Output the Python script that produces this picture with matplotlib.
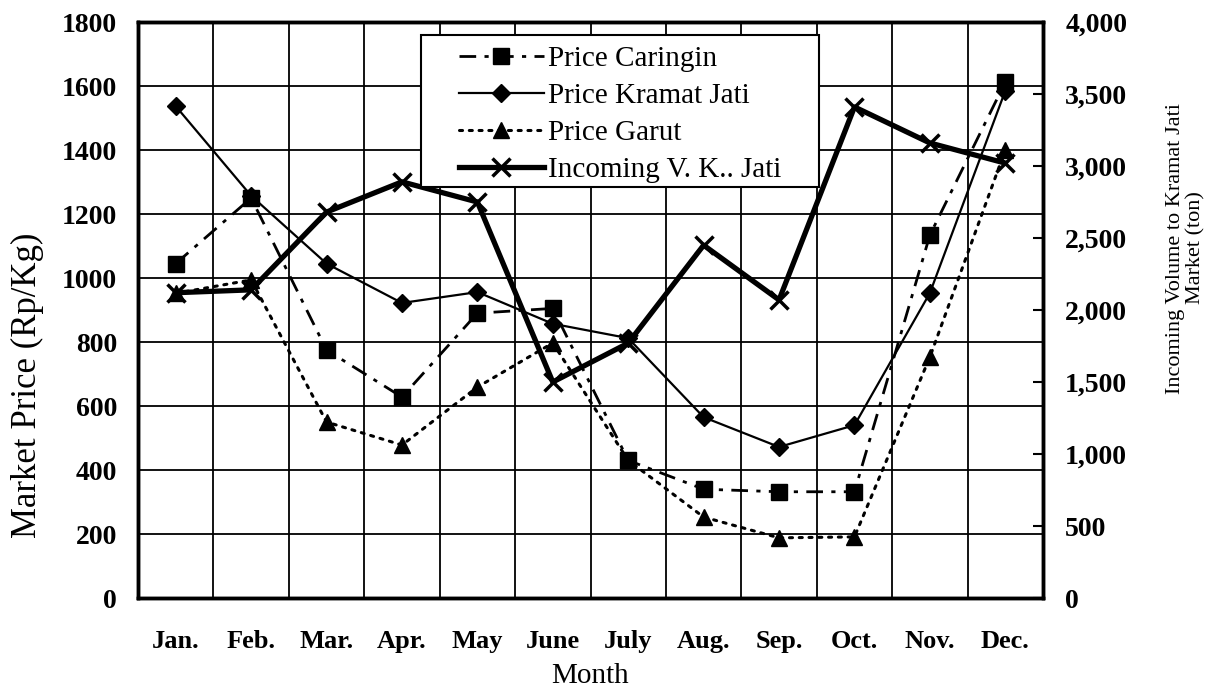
import matplotlib
matplotlib.use("Agg")
import matplotlib.pyplot as plt
from matplotlib.patches import Rectangle
from matplotlib.ticker import FuncFormatter

plt.rcParams["font.family"] = ["Liberation Serif", "DejaVu Serif"]
plt.rcParams["figure.dpi"] = 100

# data
months = ["Jan.", "Feb.", "Mar.", "Apr.", "May", "June", "July", "Aug.", "Sep.", "Oct.", "Nov.", "Dec."]
price_caringin = [1045, 1250, 775, 628, 890, 905, 430, 340, 332, 332, 1134, 1612]
price_kramat = [1537, 1257, 1045, 922, 956, 857, 812, 565, 472, 540, 953, 1585]
price_garut = [952, 994, 550, 478, 659, 797, 430, 253, 188, 191, 753, 1400]
incoming_kj = [2120, 2140, 2680, 2890, 2750, 1500, 1770, 2450, 2070, 3410, 3160, 3020]

x = list(range(len(months)))

fig = plt.figure(figsize=(12.27, 6.94))
ax = fig.add_axes([138/1227, 96/694, 905/1227, 576/694])
ax2 = ax.twinx()

l1, = ax.plot(x, price_caringin, color="k", lw=2, marker="s", ms=11,
              dashes=(6, 3, 1.5, 3), label="Price Caringin", zorder=3)
l2, = ax.plot(x, price_kramat, color="k", lw=1.6, marker="D", ms=9,
              label="Price Kramat Jati", zorder=3)
l3, = ax.plot(x, price_garut, color="k", lw=2.2, marker="^", ms=11,
              dashes=(1.0, 2.2), dash_capstyle="round", label="Price Garut", zorder=3)
l4, = ax2.plot(x, incoming_kj, color="k", lw=3.8, marker="x", ms=13, mew=2.5,
               label="Incoming V. K.. Jati", zorder=3)

ax.set_xlim(-0.5, 11.5)
ax.set_ylim(0, 1800)
ax.set_yticks(range(0, 1801, 200))
ax2.set_ylim(0, 4000)
ax2.set_yticks(range(0, 4001, 500))
ax2.yaxis.set_major_formatter(FuncFormatter(lambda v, p: f"{v:,.0f}"))

ax.set_xticks(x)
ax.set_xticklabels(months)
ax.set_xticks([i + 0.5 for i in range(11)], minor=True)
ax.grid(True, axis="y", which="major", color="k", lw=1.3)
ax.grid(True, axis="x", which="minor", color="k", lw=1.3)
ax.set_axisbelow(True)

ax.tick_params(axis="x", which="both", length=0, pad=23, labelsize=19)
ax.tick_params(axis="y", length=0, pad=15, labelsize=20)
for t in ax.get_xticklabels() + ax.get_yticklabels():
    t.set_fontweight("bold")
ax2.tick_params(axis="y", direction="in", length=7, width=1.5, pad=16, labelsize=20)
for t in ax2.get_yticklabels():
    t.set_fontweight("bold")

for s in ax.spines.values():
    s.set_linewidth(2.5)
for s in ax2.spines.values():
    s.set_linewidth(2.5)

ax.set_xlabel("Month", fontsize=21, labelpad=7)
fig.text(27/1227, 1 - 385/694, "Market Price (Rp/Kg)", rotation=90,
         ha="center", va="center", fontsize=25)
fig.text(1186/1227, 1 - 248/694, "Incoming Volume to Kramat Jati\nMarket (ton)",
         rotation=90, ha="center", va="center", fontsize=16, linespacing=1.1)

# legend box (drawn separately so the padding can differ per side)
ax2.add_patch(Rectangle((0.3127, 0.7135), 0.4398, 0.2639, transform=ax2.transAxes,
                        facecolor="white", edgecolor="k", lw=1.5, zorder=4))
leg = ax2.legend(handles=[l1, l2, l3, l4], loc="center",
                 bbox_to_anchor=(0.533, 0.840), fontsize=21, frameon=False,
                 labelspacing=0.36, handlelength=2.9, handletextpad=0.15,
                 borderpad=0, borderaxespad=0)
leg.set_zorder(5)

fig.savefig("out.png", dpi=100, facecolor="white")
